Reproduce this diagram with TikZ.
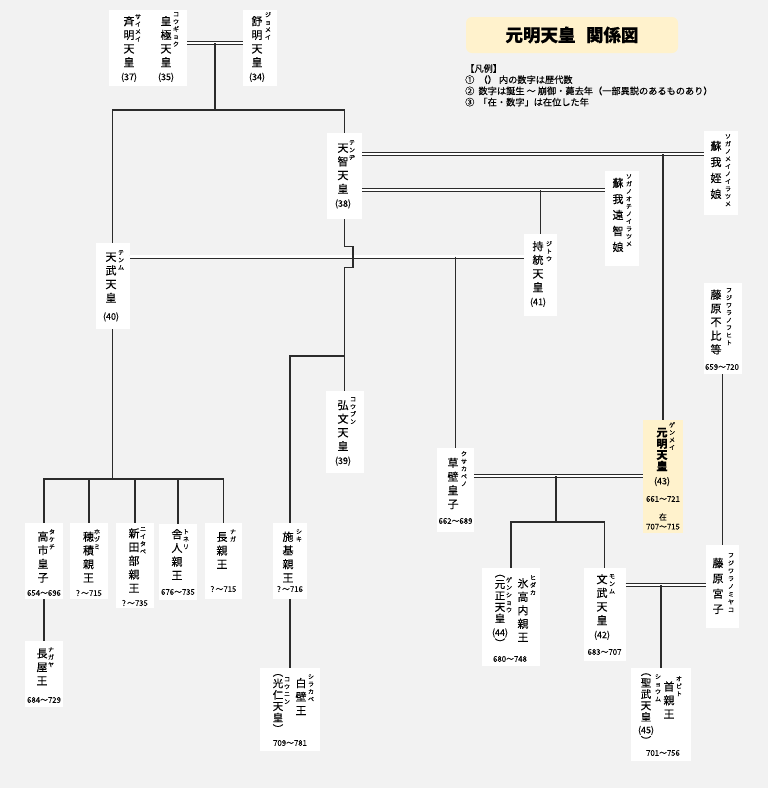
\documentclass[tikz,border=0pt]{standalone}
\usepackage{fontspec}
\setmainfont{Noto Sans CJK JP}[FakeBold=0.2]
\definecolor{bg}{HTML}{F2F2F2}
\definecolor{ki}{HTML}{FFF2CC}
\definecolor{sen}{HTML}{2B2B2B}

\begin{document}
\begin{tikzpicture}[x=1pt,y=-1pt]
			\tikzstyle{bx} = [fill=white, inner sep=0pt]
			\tikzstyle{tx} = [inner sep=0pt, align=center, font=\fontsize{11}{13.7}\selectfont]
			\tikzstyle{rb} = [inner sep=0pt, align=center, anchor=north, font=\fontsize{6}{7.5}\selectfont]
			\tikzstyle{dt} = [inner sep=0pt, align=center, font=\fontsize{7.8}{9.5}\selectfont]
			\tikzstyle{ln} = [draw=sen, line width=1.2pt]
			\tikzstyle{dl} = [draw=sen, line width=0.9pt, double=white, double distance=2.2pt]
			\path[use as bounding box, fill=bg] (0,0) rectangle (768,788);
			% boxes
			\node[bx, minimum width=78pt, minimum height=76pt] (saimei) at (148,48) {};
			\node[bx, minimum width=34pt, minimum height=76pt] (jomei) at (260,48) {};
			\node[bx, minimum width=35pt, minimum height=86pt] (tenji) at (344.5,176) {};
			\node[bx, minimum width=34pt, minimum height=86pt] (tenmu) at (112.5,286) {};
			\node[bx, minimum width=34pt, minimum height=84pt] (mei) at (721,173) {};
			\node[bx, minimum width=34pt, minimum height=95pt] (ochi) at (622,218.5) {};
			\node[bx, minimum width=33pt, minimum height=82pt] (jito) at (540.5,275) {};
			\node[bx, minimum width=38pt, minimum height=82pt] (kobun) at (344.5,432) {};
			\node[bx, minimum width=38pt, minimum height=91pt] (fuhito) at (722.5,328.5) {};
			\node[bx, fill=ki, minimum width=40pt, minimum height=113pt] (genmei) at (663,476.5) {};
			\node[bx, minimum width=37pt, minimum height=84pt] (kusakabe) at (455.5,490) {};
			\node[bx, minimum width=38pt, minimum height=76pt] (takechi) at (44,561) {};
			\node[bx, minimum width=38pt, minimum height=76pt] (hozumi) at (89,561) {};
			\node[bx, minimum width=38pt, minimum height=85pt] (niitabe) at (135,565.5) {};
			\node[bx, minimum width=38pt, minimum height=76pt] (toneri) at (178,562) {};
			\node[bx, minimum width=37pt, minimum height=76pt] (naga) at (223.5,561) {};
			\node[bx, minimum width=34pt, minimum height=76pt] (shiki) at (290,561) {};
			\node[bx, minimum width=38pt, minimum height=66pt] (nagaya) at (44,674) {};
			\node[bx, minimum width=60pt, minimum height=83pt] (shirakabe) at (290,709.5) {};
			\node[bx, minimum width=58pt, minimum height=98pt] (hidaka) at (511,617) {};
			\node[bx, minimum width=42pt, minimum height=93pt] (monmu) at (604.5,614.5) {};
			\node[bx, minimum width=33pt, minimum height=83pt] (miyako) at (722.5,586.5) {};
			\node[bx, minimum width=60pt, minimum height=93pt] (obito) at (661,714.5) {};
			% lines
			\coordinate (j1) at (215,43);
			\coordinate (j2) at (215,110);
			\draw [dl] (saimei.east |- j1) -- (jomei.west |- j1);
			\draw [ln] (j1) -- (j2);
			\draw [ln] (tenmu.north) |- (j2) -| (tenji.north);
			\coordinate (j3) at (663,154);
			\draw [dl] (tenji.east |- j3) -- (mei.west |- j3);
			\draw [ln] (j3) -- (genmei.north);
			\coordinate (j4) at (540.5,190);
			\draw [dl] (tenji.east |- j4) -- (ochi.west |- j4);
			\draw [ln] (j4) -- (jito.north);
			\coordinate (j5) at (455.5,256.5);
			\draw [dl] (tenmu.east |- j5) -- (jito.west |- j5);
			\draw [ln] (j5) -- (kusakabe.north);
			\draw [ln] (tenji.south) -- ++(0,27) -- ++(8.5,0) -- ++(0,21) -- ++(-8.5,0) -- (kobun.north);
			\coordinate (j6) at (344.5,356);
			\draw [ln] (j6) -| (shiki.north);
			\coordinate (j7) at (112.5,479);
			\draw [ln] (tenmu.south) -- (j7);
			\draw [ln] (takechi.north) |- (naga.north |- j7) -- (naga.north);
			\foreach \c in {hozumi,niitabe,toneri}
				\draw [ln] (\c.north) -- (\c.north |- j7);
			\draw [ln] (takechi.south) -- (nagaya.north);
			\draw [ln] (shiki.south) -- (shirakabe.north);
			\coordinate (j8) at (556,476);
			\coordinate (j9) at (556,522);
			\draw [dl] (kusakabe.east |- j8) -- (genmei.west |- j8);
			\draw [ln] (j8) -- (j9);
			\draw [ln] (hidaka.north) |- (j9) -| (monmu.north);
			\draw [ln] (fuhito.south) -- (miyako.north);
			\coordinate (j10) at (661,585);
			\draw [dl] (monmu.east |- j10) -- (miyako.west |- j10);
			\draw [ln] (j10) -- (obito.north);
			% title and legend
			\node[fill=ki, rounded corners=6pt, minimum width=212pt, minimum height=36pt, font=\bfseries\fontsize{17.5}{19}\selectfont] (title) at (572,35) {元明天皇\hspace{.6em}関係図};
			\node[anchor=north west, align=left, inner sep=0pt, font=\fontsize{9.2}{11.2}\selectfont] (hanrei) at (465,64) {【凡例】\\①\ \ （）\ 内の数字は歴代数\\②\ \ 数字は誕生 ～ 崩御・薨去年（一部異説のあるものあり）\\③\ \ 「在・数字」は在位した年};
			% names
			\node[tx] (saimeiT) at (129,49) {斉\\明\\天\\皇\\{\small(37)}};
			\node[rb] (saimeiR) at (138,14) {サ\\イ\\メ\\イ};
			\node[tx] (kogyokuT) at (166,49) {皇\\極\\天\\皇\\{\small(35)}};
			\node[rb] (kogyokuR) at (176,12) {コ\\ウ\\ギ\\ョ\\ク};
			\node[tx] (jomeiT) at (257,49) {舒\\明\\天\\皇\\{\small(34)}};
			\node[rb] (jomeiR) at (268,12) {ジ\\ョ\\メ\\イ};
			\node[tx] (tenjiT) at (343,176) {天\\智\\天\\皇\\{\small(38)}};
			\node[rb] (tenjiR) at (352,140) {テ\\ン\\ヂ};
			\node[tx] (tenmuT) at (111,287) {天\\武\\天\\皇\\[4pt]{\small(40)}};
			\node[rb] (tenmuR) at (121,250) {テ\\ン\\ム};
			\node[tx, font=\fontsize{11}{16}\selectfont] (meiT) at (716,170) {蘇\\我\\姪\\娘};
			\node[rb] (meiR) at (728,134) {ソ\\ガ\\ノ\\メ\\イ\\ノ\\イ\\ラ\\ツ\\メ};
			\node[tx, font=\fontsize{11}{16}\selectfont] (ochiT) at (618,215) {蘇\\我\\遠\\智\\娘};
			\node[rb] (ochiR) at (629,174) {ソ\\ガ\\ノ\\オ\\チ\\ノ\\イ\\ラ\\ツ\\メ};
			\node[tx] (jitoT) at (538,274) {持\\統\\天\\皇\\{\small(41)}};
			\node[rb] (jitoR) at (549,241) {ジ\\ト\\ウ};
			\node[tx] (kobunT) at (343,433) {弘\\文\\天\\皇\\{\small(39)}};
			\node[rb] (kobunR) at (353,397) {コ\\ウ\\ブ\\ン};
			\node[tx] (fuhitoT) at (716,322) {藤\\原\\不\\比\\等};
			\node[rb] (fuhitoR) at (729,288) {フ\\ジ\\ワ\\ラ\\ノ\\フ\\ヒ\\ト};
			\node[dt] (fuhitoD) at (722,367) {659～720};
			\node[tx, font=\bfseries\fontsize{11}{11.2}\selectfont] (genmeiT) at (662,457) {元\\明\\天\\皇\\[3pt]{\mdseries\small(43)}};
			\node[rb] (genmeiR) at (672,422) {ゲ\\ン\\メ\\イ};
			\node[dt] (genmeiD) at (663,499) {661～721};
			\node[dt] (genmeiZ) at (663,521.5) {在\\707～715};
			\node[tx] (kusakabeT) at (453,483.5) {草\\壁\\皇\\子};
			\node[rb] (kusakabeR) at (464,451) {ク\\サ\\カ\\ベ\\ノ};
			\node[dt] (kusakabeD) at (455.5,521) {662～689};
			\node[tx] (takechiT) at (43,557) {高\\市\\皇\\子};
			\node[rb] (takechiR) at (52,529) {タ\\ケ\\チ};
			\node[dt] (takechiD) at (44,593) {654～696};
			\node[tx] (hozumiT) at (88.5,557) {穂\\積\\親\\王};
			\node[rb] (hozumiR) at (97,529) {ホ\\ヅ\\ミ};
			\node[dt] (hozumiD) at (89,593) {?\,～715};
			\node[tx] (niitabeT) at (134,560.5) {新\\田\\部\\親\\王};
			\node[rb] (niitabeR) at (143,527) {ニ\\イ\\タ\\ベ};
			\node[dt] (niitabeD) at (135,603) {?\,～735};
			\node[tx] (toneriT) at (177,554.5) {舎\\人\\親\\王};
			\node[rb] (toneriR) at (186,529) {ト\\ネ\\リ};
			\node[dt] (toneriD) at (178,592) {676～735};
			\node[tx] (nagaT) at (222,550.5) {長\\親\\王};
			\node[rb] (nagaR) at (233,529) {ナ\\ガ};
			\node[dt] (nagaD) at (223.5,589) {?\,～715};
			\node[tx] (shikiT) at (288,557) {施\\基\\親\\王};
			\node[rb] (shikiR) at (299,529) {シ\\キ};
			\node[dt] (shikiD) at (290,589) {?\,～716};
			\node[tx] (nagayaT) at (42,667) {長\\屋\\王};
			\node[rb] (nagayaR) at (51,647) {ナ\\ガ\\ヤ};
			\node[dt] (nagayaD) at (44,700) {684～729};
			\node[tx] (shirakabeT) at (301,696.5) {白\\壁\\王};
			\node[rb] (shirakabeR) at (311,674) {シ\\ラ\\カ\\ベ};
			\node[tx, font=\fontsize{10.5}{11.4}\selectfont] (konin) at (278,703.5) {︵\\光\\仁\\天\\皇\\︶};
			\node[rb] (koninR) at (287,677) {コ\\ウ\\ニ\\ン};
			\node[dt] (shirakabeD) at (290,743) {709～781};
			\node[tx, font=\fontsize{11}{13.5}\selectfont] (hidakaT) at (523,610) {氷\\高\\内\\親\\王};
			\node[rb] (hidakaR) at (533,575) {ヒ\\ダ\\カ};
			\node[tx, font=\fontsize{10.5}{11.4}\selectfont] (gensho) at (500,611) {︵\\元\\正\\天\\皇\\[2pt]{\small(44)}\\︶};
			\node[rb] (genshoR) at (509,577) {ゲ\\ン\\シ\\ョ\\ウ};
			\node[dt] (hidakaD) at (510,659) {680～748};
			\node[tx] (monmuT) at (602,607) {文\\武\\天\\皇\\{\small(42)}};
			\node[rb] (monmuR) at (612,574) {モ\\ン\\ム};
			\node[dt] (monmuD) at (604.5,652) {683～707};
			\node[tx, font=\fontsize{11}{15.3}\selectfont] (miyakoT) at (718,586) {藤\\原\\宮\\子};
			\node[rb, font=\fontsize{6}{7.8}\selectfont] (miyakoR) at (731,553) {フ\\ジ\\ワ\\ラ\\ノ\\ミ\\ヤ\\コ};
			\node[tx] (obitoT) at (669,700) {首\\親\\王};
			\node[rb] (obitoR) at (679,676) {オ\\ビ\\ト};
			\node[tx, font=\fontsize{10.5}{11.4}\selectfont] (shomu) at (646,709) {︵\\聖\\武\\天\\皇\\[1pt]{\small(45)}\\︶};
			\node[rb] (shomuR) at (658,674) {シ\\ョ\\ウ\\ム};
			\node[dt] (obitoD) at (663,753) {701～756};
		\end{tikzpicture}
\end{document}
